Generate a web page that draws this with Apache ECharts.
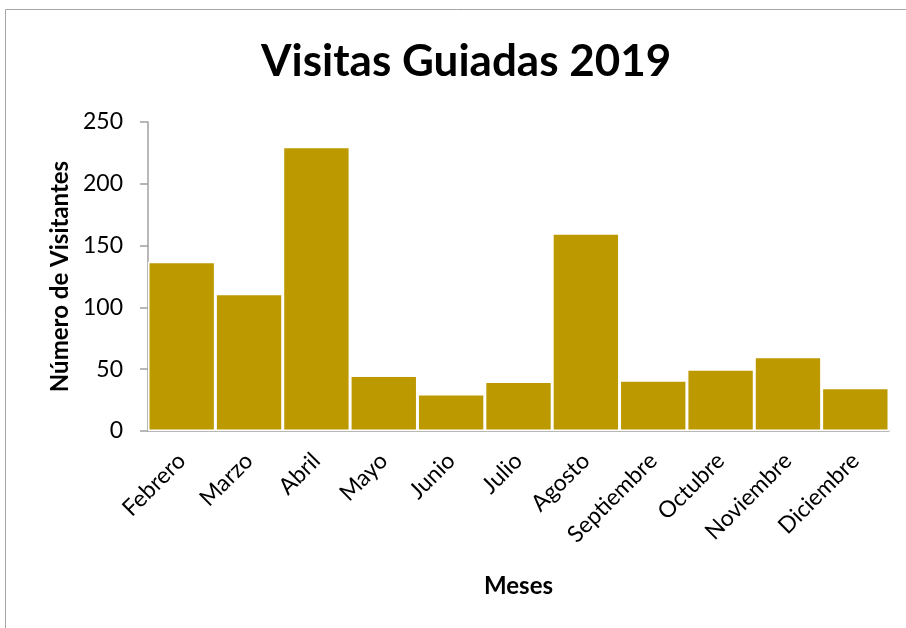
<!DOCTYPE html>
<html><head><meta charset="utf-8">
<script src="https://cdn.jsdelivr.net/npm/echarts@6/dist/echarts.min.js"></script>
<style>html,body{margin:0;padding:0;background:#fff}#c{width:906px;height:628px}</style>
</head><body><div id="c"></div>
<script>
const months = ['Febrero','Marzo','Abril','Mayo','Junio','Julio','Agosto','Septiembre','Octubre','Noviembre','Diciembre'];
const visitors = [137, 111, 230, 45, 30, 40, 160, 41, 50, 60, 35];
const yTicks = {min: 0, max: 250, interval: 50};
const font = 'Lato, "Open Sans", sans-serif';
const chart = echarts.init(document.getElementById('c'), null, {renderer: 'canvas'});
chart.setOption({
  animation: false,
  backgroundColor: '#fff',
  graphic: [{type: 'rect', shape: {x: 5.5, y: 9.5, width: 940, height: 660}, style: {fill: 'none', stroke: '#a6a6a6', lineWidth: 1}, z: -1}],
  title: {text: 'Visitas Guiadas 2019', left: 256, top: 35,
    textStyle: {fontFamily: font, fontWeight: 'bold', fontSize: 44, color: '#000'}},
  grid: {left: 148, right: 17, top: 122, bottom: 197},
  xAxis: {type: 'category', data: months,
    name: 'Meses', nameLocation: 'middle', nameGap: 143,
    nameTextStyle: {fontFamily: font, fontWeight: 'bold', fontSize: 24, color: '#000'},
    axisLine: {lineStyle: {color: '#a0a0a0', width: 1.5}}, axisTick: {show: false},
    axisLabel: {rotate: 45, margin: 26, fontFamily: font, fontSize: 23, color: '#000', interval: 0}},
  yAxis: {type: 'value', min: yTicks.min, max: yTicks.max, interval: yTicks.interval,
    name: 'Número de Visitantes', nameLocation: 'middle', nameGap: 76,
    nameTextStyle: {fontFamily: font, fontWeight: 'bold', fontSize: 24, color: '#000'},
    axisLine: {show: true, lineStyle: {color: '#a0a0a0', width: 1.5}},
    axisTick: {show: true, length: 8, lineStyle: {color: '#a0a0a0', width: 1.5}},
    splitLine: {show: false},
    axisLabel: {margin: 25, fontFamily: font, fontSize: 23, color: '#000'}},
  series: [{type: 'bar', data: visitors, barCategoryGap: '0%',
    itemStyle: {color: '#bd9900', borderColor: '#fff', borderWidth: 1.5}}]
});
</script></body></html>
